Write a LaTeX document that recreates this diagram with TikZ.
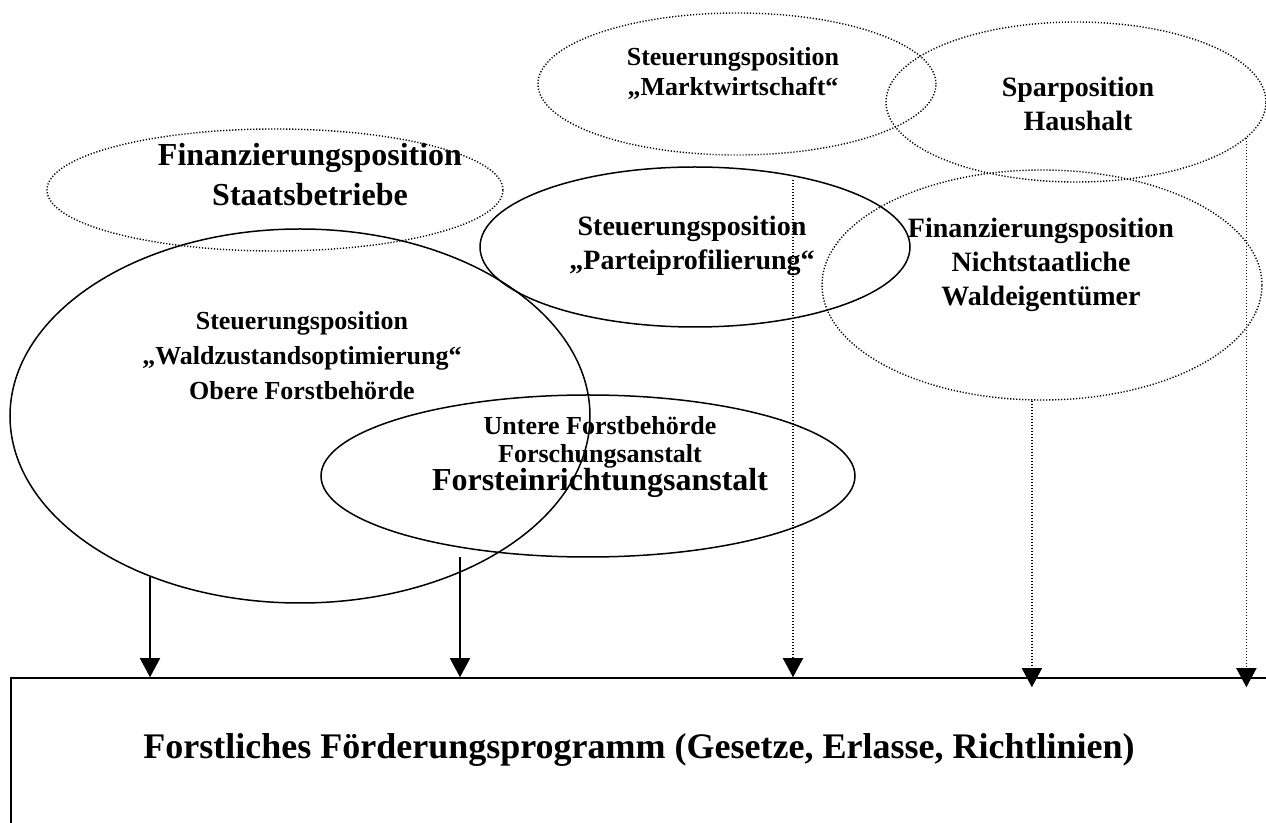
\documentclass[tikz,border=0pt]{standalone}
\usepackage{fontspec}
\setmainfont{Liberation Serif}
\usetikzlibrary{arrows.meta,shapes.geometric}

\begin{document}
\begin{tikzpicture}[x=0.5pt, y=-0.5pt, >={Triangle[width=10pt,length=9.5pt]},
  posn/.style={draw, ellipse, inner sep=0pt, line width=0.75pt},
  dots/.style={line width=0.7pt, dash pattern=on 0.6pt off 0.9pt},
  lab/.style={align=center, font=\bfseries\fontsize{13}{15}\selectfont},
  labl/.style={align=center, font=\bfseries\fontsize{14}{17}\selectfont}]
\clip (0,0) rectangle (1266,823);
% Positionen
\node[posn, dots, minimum width=199pt, minimum height=71pt] (markt) at (737,84) {};
\node[posn, dots, minimum width=190pt, minimum height=80pt] (spar) at (1076,102) {};
\node[posn, dots, minimum width=228pt, minimum height=61pt] (staat) at (275,190) {};
\node[posn, minimum width=215pt, minimum height=80pt] (partei) at (695,247) {};
\node[posn, dots, minimum width=220pt, minimum height=115pt] (nicht) at (1042,285) {};
\node[posn, minimum width=290pt, minimum height=187pt] (wald) at (300,416) {};
\node[posn, minimum width=267pt, minimum height=81pt] (untere) at (588,476) {};
% Texte
\node[lab] (markt-t) at (733,73) {Steuerungsposition\\,,Marktwirtschaft``};
\node[labl] (spar-t) at (1078,104) {Sparposition\\Haushalt};
\node[align=center, font=\bfseries\fontsize{16}{20}\selectfont] (staat-t) at (310,175)
 {Finanzierungsposition\\Staatsbetriebe};
\node[labl] (partei-t) at (692,246) {Steuerungsposition\\,,Parteiprofilierung``};
\node[labl] (nicht-t) at (1041,265) {Finanzierungsposition\\Nichtstaatliche\\Waldeigentümer};
\node[lab, font=\bfseries\fontsize{13}{17.5}\selectfont] (wald-t) at (302,356)
 {Steuerungsposition\\,,Waldzustandsoptimierung``\\Obere Forstbehörde};
\node[lab, font=\bfseries\fontsize{13}{14}\selectfont] (untere-t) at (600,457)
 {Untere Forstbehörde\\Forschungsanstalt\\{\fontsize{16}{14}\selectfont Forsteinrichtungsanstalt}};
% Programm
\node[draw, line width=0.75pt, minimum width=632pt, minimum height=81pt] (prog) at (643,759) {};
\node[font=\bfseries\fontsize{18}{21}\selectfont] (prog-t) at (639,750)
 {Forstliches Förderungsprogramm (Gesetze, Erlasse, Richtlinien)};
% Pfeile
\coordinate (u2) at (460,557);
\coordinate (m3) at (793,180);
\draw[->, line width=0.75pt] (wald.227.4) -- (wald.227.4 |- prog.north);
\draw[->, line width=0.75pt] (u2) -- (u2 |- prog.north);
\draw[->, dots] (m3) -- (m3 |- prog.north);
\draw[->, dots, shorten >=-5pt] (nicht.265) -- (nicht.265 |- prog.north);
\draw[->, dots, shorten >=-5pt] (spar.-12.3) -- (spar.-12.3 |- prog.north);
\end{tikzpicture}
\end{document}
